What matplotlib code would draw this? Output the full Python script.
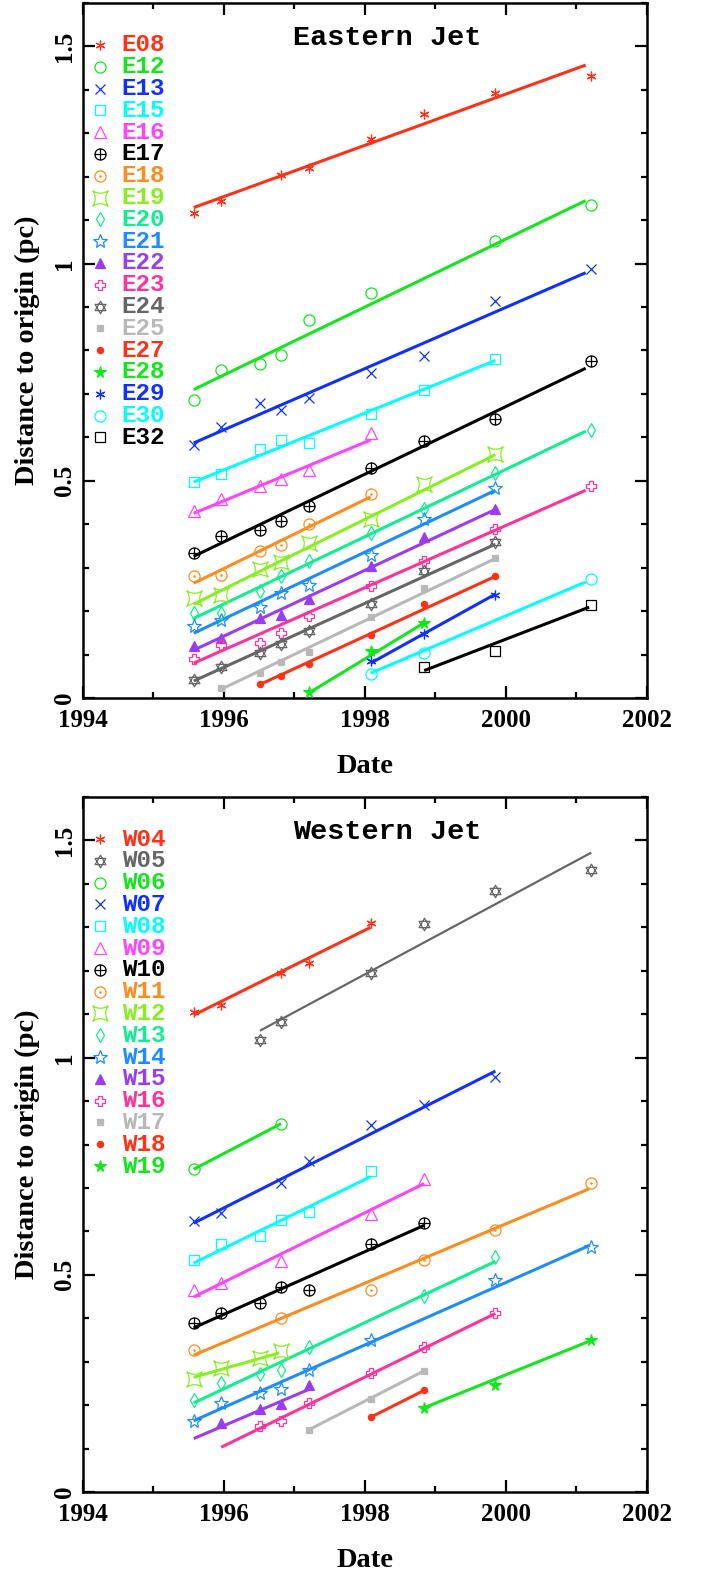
import numpy as np
import matplotlib.pyplot as plt
from matplotlib.path import Path
from matplotlib.ticker import MultipleLocator

nan = np.nan

# Observation epochs (decimal years)
epochs = [1995.57, 1995.96, 1996.51, 1996.81, 1997.20, 1998.08, 1998.84, 1999.85, 2001.21]

# Eastern jet knots: distance (pc) at each epoch, nan = not measured
east_names = ['E08', 'E12', 'E13', 'E15', 'E16', 'E17', 'E18', 'E19', 'E20', 'E21',
              'E22', 'E23', 'E24', 'E25', 'E27', 'E28', 'E29', 'E30', 'E32']
east_dist = [
    [1.116, 1.143, nan, 1.205, 1.221, 1.288, 1.344, 1.392, 1.432],
    [0.687, 0.754, 0.769, 0.789, 0.869, 0.932, nan, 1.051, 1.135],
    [0.582, 0.624, 0.679, 0.663, 0.691, 0.749, 0.787, 0.915, 0.988],
    [0.497, 0.515, 0.574, 0.594, 0.587, 0.654, 0.708, 0.781, nan],
    [0.431, 0.457, 0.488, 0.503, 0.524, 0.610, nan, nan, nan],
    [0.334, 0.373, 0.386, 0.407, 0.441, 0.530, 0.591, 0.643, 0.775],
    [0.280, 0.282, 0.338, 0.352, 0.400, 0.469, nan, nan, nan],
    [0.229, 0.238, 0.296, 0.313, 0.357, 0.411, 0.493, 0.562, nan],
    [0.195, 0.196, 0.247, 0.280, 0.316, 0.379, 0.434, 0.518, 0.618],
    [0.166, 0.179, 0.210, 0.242, 0.260, 0.329, 0.411, 0.484, nan],
    [0.120, 0.139, 0.183, 0.191, 0.227, 0.303, 0.371, 0.436, nan],
    [0.090, 0.122, 0.127, 0.150, 0.189, 0.258, 0.316, 0.389, 0.487],
    [0.041, 0.072, 0.104, 0.124, 0.154, 0.216, 0.293, 0.359, nan],
    [nan, 0.024, 0.058, 0.083, 0.106, 0.187, 0.252, 0.323, nan],
    [nan, nan, 0.031, 0.051, 0.077, 0.145, 0.216, 0.280, nan],
    [nan, nan, nan, nan, 0.013, 0.108, 0.173, nan, nan],
    [nan, nan, nan, nan, nan, 0.086, 0.147, 0.237, nan],
    [nan, nan, nan, nan, nan, 0.054, 0.103, nan, 0.273],
    [nan, nan, nan, nan, nan, nan, 0.071, 0.109, 0.214],
]
# linear proper-motion fits: (t_start, d_start, t_end, d_end)
east_fit = [
    (1995.57, 1.129, 2001.13, 1.457),
    (1995.57, 0.710, 2001.13, 1.145),
    (1995.57, 0.587, 2001.13, 0.979),
    (1995.57, 0.497, 1999.85, 0.777),
    (1995.57, 0.425, 1998.08, 0.594),
    (1995.57, 0.326, 2001.13, 0.759),
    (1995.57, 0.264, 1998.08, 0.463),
    (1995.57, 0.216, 1999.85, 0.560),
    (1995.57, 0.183, 2001.13, 0.614),
    (1995.57, 0.149, 1999.85, 0.478),
    (1995.57, 0.110, 1999.85, 0.434),
    (1995.57, 0.080, 2001.13, 0.478),
    (1995.57, 0.039, 1999.85, 0.354),
    (1995.96, 0.020, 1999.85, 0.321),
    (1996.51, 0.031, 1999.85, 0.280),
    (1997.20, 0.011, 1998.84, 0.173),
    (1998.08, 0.080, 1999.85, 0.239),
    (1998.08, 0.057, 2001.13, 0.267),
    (1998.84, 0.063, 2001.18, 0.209),
]

# Western jet knots
west_names = ['W04', 'W05', 'W06', 'W07', 'W08', 'W09', 'W10', 'W11', 'W12', 'W13',
              'W14', 'W15', 'W16', 'W17', 'W18', 'W19']
west_dist = [
    [1.106, 1.121, nan, 1.196, 1.219, 1.309, nan, nan, nan],
    [nan, nan, 1.041, 1.083, nan, 1.196, 1.307, 1.384, 1.431],
    [0.743, nan, nan, 0.848, nan, nan, nan, nan, nan],
    [0.625, 0.642, nan, 0.711, 0.762, 0.844, 0.890, 0.955, nan],
    [0.533, 0.570, 0.589, 0.627, 0.644, 0.740, nan, nan, nan],
    [0.466, 0.481, nan, 0.531, nan, 0.641, 0.721, nan, nan],
    [0.390, 0.411, 0.436, 0.472, 0.464, 0.570, 0.620, nan, nan],
    [0.328, nan, nan, 0.401, nan, 0.466, 0.535, 0.604, 0.712],
    [0.261, 0.286, 0.309, 0.324, nan, nan, nan, nan, nan],
    [0.211, 0.251, 0.271, 0.282, 0.333, nan, 0.451, 0.541, nan],
    [0.164, 0.204, 0.227, 0.236, 0.280, 0.349, nan, 0.489, 0.564],
    [nan, 0.158, 0.192, 0.202, 0.246, nan, nan, nan, nan],
    [nan, nan, 0.152, 0.164, 0.204, 0.274, 0.334, 0.413, nan],
    [nan, nan, nan, nan, 0.143, 0.213, 0.279, nan, nan],
    [nan, nan, nan, nan, nan, 0.172, 0.234, nan, nan],
    [nan, nan, nan, nan, nan, nan, 0.194, 0.246, 0.349],
]
west_fit = [
    (1995.57, 1.098, 1998.08, 1.300),
    (1996.51, 1.062, 2001.21, 1.472),
    (1995.57, 0.743, 1996.81, 0.848),
    (1995.57, 0.619, 1999.85, 0.969),
    (1995.57, 0.527, 1998.08, 0.726),
    (1995.57, 0.449, 1998.84, 0.710),
    (1995.57, 0.378, 1998.84, 0.614),
    (1995.57, 0.315, 2001.18, 0.698),
    (1995.57, 0.264, 1996.78, 0.320),
    (1995.57, 0.205, 1999.85, 0.531),
    (1995.57, 0.164, 2001.19, 0.568),
    (1995.57, 0.123, 1997.20, 0.236),
    (1995.96, 0.103, 1999.85, 0.411),
    (1997.20, 0.143, 1998.84, 0.279),
    (1998.08, 0.172, 1998.84, 0.234),
    (1998.84, 0.194, 2001.21, 0.349),
]

# --- symbol and colour styles ---
RED, GREEN, BLUE, CYAN = '#ff3218', '#14e61e', '#1030ff', '#00ffff'
MAGENTA, ORANGE, CHART, SPRING = '#ff44ff', '#ff8c1e', '#88ee22', '#10ee90'
DODGER, PURPLE, PINK, GRAY, SILVER = '#1e8cff', '#9a3cf0', '#ff3399', '#666666', '#b8b8b8'

east_colors = [RED, GREEN, BLUE, CYAN, MAGENTA, 'black', ORANGE, CHART, SPRING, DODGER,
               PURPLE, PINK, GRAY, SILVER, RED, GREEN, BLUE, CYAN, 'black']
east_syms = ['ast', 'circ', 'x', 'sq', 'tri', 'oplus', 'odot', 'concave', 'diam', 'star',
             'tri_f', 'plus', 'hexa', 'sq_s', 'dot', 'star_f', 'ast', 'circ', 'sq']
west_colors = [RED, GRAY, GREEN, BLUE, CYAN, MAGENTA, 'black', ORANGE, CHART, SPRING,
               DODGER, PURPLE, PINK, SILVER, RED, GREEN]
west_syms = ['ast', 'hexa', 'circ', 'x', 'sq', 'tri', 'oplus', 'odot', 'concave', 'diam',
             'star', 'tri_f', 'plus', 'sq_s', 'dot', 'star_f']

# custom marker paths
circle = Path.unit_circle()
oplus = Path.make_compound_path(
    circle,
    Path([(-1, 0), (1, 0)], [Path.MOVETO, Path.LINETO]),
    Path([(0, -1), (0, 1)], [Path.MOVETO, Path.LINETO]))
odot = Path.make_compound_path(circle, Path.circle((0, 0), 0.12))
c = 0.35
concave = Path([(-1, -1), (0, -c), (1, -1), (c, 0), (1, 1), (0, c), (-1, 1), (-c, 0), (-1, -1), (-1, -1)],
               [Path.MOVETO, Path.CURVE3, Path.CURVE3, Path.CURVE3, Path.CURVE3,
                Path.CURVE3, Path.CURVE3, Path.CURVE3, Path.CURVE3, Path.CLOSEPOLY])
s3 = np.sqrt(3) / 2
hexa = Path.make_compound_path(
    Path([(0, 1), (-s3, -0.5), (s3, -0.5), (0, 1)], closed=True),
    Path([(0, -1), (s3, 0.5), (-s3, 0.5), (0, -1)], closed=True))

# marker, size, filled
SYMS = {
    'ast': ((6, 2, 0), 7.0, False),
    'circ': ('o', 8.0, False),
    'x': ('x', 6.5, False),
    'sq': ('s', 7.0, False),
    'tri': ('^', 8.0, False),
    'oplus': (oplus, 8.0, False),
    'odot': (odot, 8.0, False),
    'concave': (concave, 11.0, False),
    'diam': ('d', 7.5, False),
    'star': ('*', 10.0, False),
    'tri_f': ('^', 7.0, True),
    'plus': ('P', 7.5, False),
    'hexa': (hexa, 9.0, False),
    'sq_s': ('s', 4.0, True),
    'dot': ('o', 4.5, True),
    'star_f': ('*', 8.5, True),
}


def marker_kw(sym, color):
    m, ms, filled = SYMS[sym]
    return dict(marker=m, markersize=ms, markeredgecolor=color,
                markerfacecolor=color if filled else 'none', markeredgewidth=0.9,
                linestyle='none')


mono = 'Liberation Mono'
serif = 'Liberation Serif'


def draw_panel(ax, title, names, dists, fits, colors, syms, widths):
    for name, d, fit, col, sym, lw in zip(names, dists, fits, colors, syms, widths):
        ax.plot([fit[0], fit[2]], [fit[1], fit[3]], color=col, lw=lw,
                solid_capstyle='butt', zorder=2)
        ax.plot(epochs, d, zorder=3, **marker_kw(sym, col))

    # key: symbol plus coloured knot name
    y0, dy = 0.9396, 0.03137
    for i, (name, col, sym) in enumerate(zip(names, colors, syms)):
        y = y0 - i * dy
        ax.plot([0.031], [y], transform=ax.transAxes, clip_on=False, **marker_kw(sym, col))
        ax.text(0.0686, y, name, transform=ax.transAxes, color=col, fontsize=17.5,
                family=mono, weight='bold', ha='left', va='center')

    ax.text(0.54, 0.949, title, transform=ax.transAxes, fontsize=20.5, family=mono,
            weight='bold', ha='center', va='center')

    ax.set_xlim(1994, 2002)
    ax.set_ylim(0, 1.6)
    ax.xaxis.set_major_locator(MultipleLocator(2))
    ax.xaxis.set_minor_locator(MultipleLocator(1))
    ax.yaxis.set_major_locator(MultipleLocator(0.5))
    ax.yaxis.set_minor_locator(MultipleLocator(0.1))
    ax.set_yticks([0, 0.5, 1, 1.5])
    ax.set_yticklabels(['0', '0.5', '1', '1.5'], rotation=90, va='center')
    ax.tick_params(which='both', direction='in', top=True, right=True, width=1.6)
    ax.tick_params(which='major', length=8.6)
    ax.tick_params(which='minor', length=4.3)
    ax.tick_params(axis='x', pad=8)
    ax.tick_params(axis='y', pad=5)
    for lab in ax.get_xticklabels() + ax.get_yticklabels():
        lab.set_family(serif)
        lab.set_weight('bold')
        lab.set_fontsize(18)
    for sp in ax.spines.values():
        sp.set_linewidth(1.8)

    ax.set_xlabel('Date', family=serif, weight='bold', fontsize=20.5)
    ax.set_ylabel('Distance to origin (pc)', family=serif, weight='bold', fontsize=20.5)
    ax.xaxis.set_label_coords(0.5, -0.099)
    ax.xaxis.label.set_verticalalignment('center')
    ax.yaxis.set_label_coords(-0.099, 0.5)
    ax.yaxis.label.set_verticalalignment('center')


fig = plt.figure(figsize=(7.07, 15.73), dpi=100)
ax1 = fig.add_axes([0.1174, 0.5563, 0.7977, 0.4418])
ax2 = fig.add_axes([0.1174, 0.0515, 0.7977, 0.4418])

east_lw = [2.2] * len(east_names)
west_lw = [2.2] * len(west_names)
west_lw[1] = 1.6

draw_panel(ax1, 'Eastern Jet', east_names, east_dist, east_fit, east_colors, east_syms, east_lw)
draw_panel(ax2, 'Western Jet', west_names, west_dist, west_fit, west_colors, west_syms, west_lw)

fig.savefig('out.png', dpi=100)
